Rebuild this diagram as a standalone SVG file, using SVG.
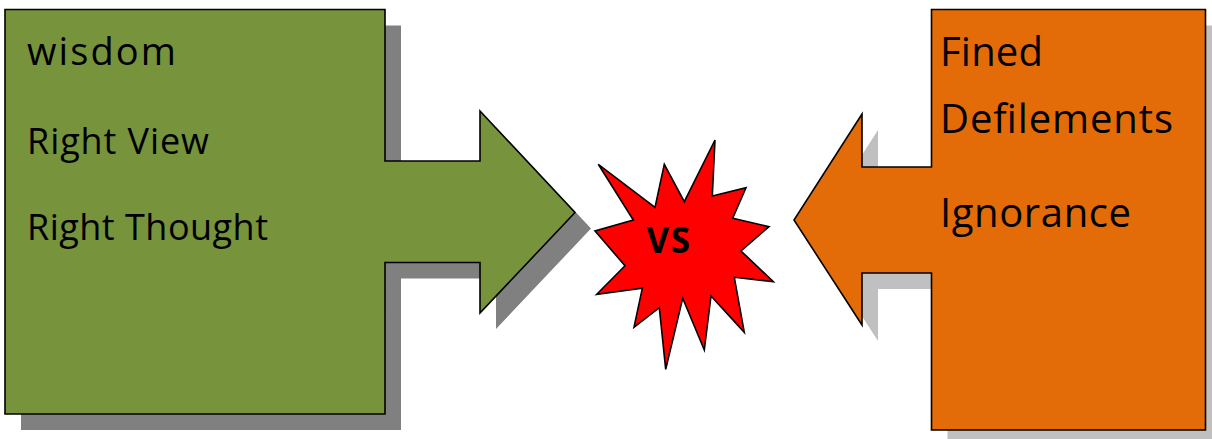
<svg xmlns="http://www.w3.org/2000/svg" width="1212" height="439" viewBox="0 0 1212 439">
<style>
.lbl{font-family:"Open Sans","Noto Sans","Liberation Sans",Arial,sans-serif;fill:#000}
.edge{stroke:#000;stroke-width:1.6;stroke-linejoin:miter}
</style>
<defs>
<path id="greenShape" d="M5,9.5 H385 V161 H480 V111 L575,212.5 L480,313 V262.5 H385 V414 H5 Z"/>
<path id="orangeShape" d="M931.5,9.5 H1205.5 V430 H931.5 V273 H862 V325 L794,220 L862,114 V167 H931.5 Z"/>
</defs>
<rect width="1212" height="439" fill="#fff"/>
<g id="node-wisdom">
<use href="#greenShape" transform="translate(16,16)" fill="#808080"/>
<use href="#greenShape" fill="#77933C" class="edge"/>
<text class="lbl" x="27" y="65" font-size="38" textLength="149">wisdom</text>
<text class="lbl" x="27" y="154" font-size="36" textLength="182">Right View</text>
<text class="lbl" x="27" y="240" font-size="36" textLength="241">Right Thought</text>
</g>
<g id="node-defilements">
<use href="#orangeShape" transform="translate(16,16)" fill="#C0C0C0"/>
<use href="#orangeShape" fill="#E36C09" class="edge"/>
<text class="lbl" x="940" y="65.5" font-size="40" textLength="103">Fined</text>
<text class="lbl" x="940" y="132.5" font-size="40" textLength="233">Defilements</text>
<text class="lbl" x="940" y="226.5" font-size="40" textLength="191">Ignorance</text>
</g>
<g id="node-vs">
<polygon class="edge" fill="#FF0000" points="715,140 712.3,196 746,187.7 732.7,218.3 769,226.7 741,251 773.3,281.7 734.3,277.3 744.3,332.3 711,296 704.3,350 682.7,298.3 665.7,369.3 659.3,307.7 634,327.3 642.3,288.3 596.7,294.3 625,265.7 595,231 633.3,220 598.3,164.3 655,207.3 664.3,164.3 684.3,201.7"/>
<text class="lbl" x="646.5" y="252.5" font-size="35" font-weight="bold" textLength="43.5">VS</text>
</g>
<g id="connectors"/>
</svg>
